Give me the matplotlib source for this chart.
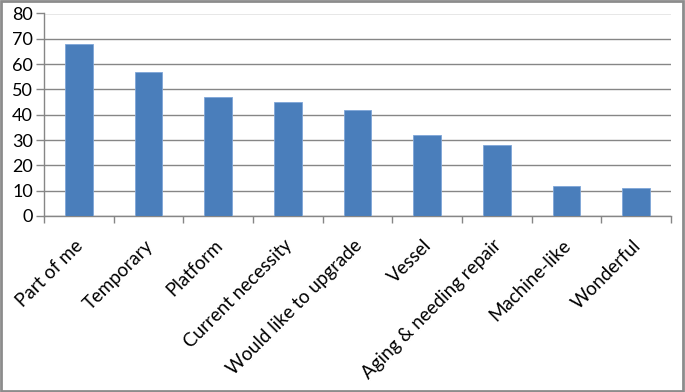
"""Bar chart: perceptions of the body (counts per category)."""

import matplotlib.pyplot as plt
from matplotlib.patches import Rectangle
from matplotlib.transforms import ScaledTranslation

CATEGORIAS = [
    "Part of me", "Temporary", "Platform", "Current necessity",
    "Would like to upgrade", "Vessel", "Aging & needing repair",
    "Machine-like", "Wonderful",
]
VALORES = [68, 57, 47, 45, 42, 32, 28, 12, 11]
TICKS_Y = [0, 10, 20, 30, 40, 50, 60, 70, 80]

GRIS = "#868686"
AZUL = "#4A7EBB"

plt.rcParams["font.family"] = ["Lato", "DejaVu Sans"]

fig = plt.figure(figsize=(6.85, 3.92), dpi=100)
ax = fig.add_axes([44 / 685, 1 - 216 / 392, 627 / 685, 202.5 / 392])

x = list(range(len(CATEGORIAS)))
ax.bar(x, VALORES, width=0.4, color=AZUL, edgecolor="#7EA6D8",
       linewidth=0.6, zorder=3)

ax.set_xlim(-0.5, len(CATEGORIAS) - 0.5)
ax.set_ylim(0, 80)
ax.set_yticks(TICKS_Y)
ax.yaxis.grid(True, color=GRIS, linewidth=1.0, zorder=0)
ax.set_axisbelow(True)

# marcas del eje x entre categorias, como en Excel
ax.set_xticks([i - 0.5 for i in range(len(CATEGORIAS) + 1)])
ax.set_xticklabels([])
ax.tick_params(axis="x", length=5, color=GRIS, width=1, direction="out")
ax.tick_params(axis="y", length=6, color=GRIS, width=1,
               labelsize=13, pad=2)

for lado in ["top", "right"]:
    ax.spines[lado].set_visible(False)
for lado in ["bottom", "left"]:
    ax.spines[lado].set_color(GRIS)
    ax.spines[lado].set_linewidth(1)

desplazar = ScaledTranslation(-3 / 72, -15 / 72, fig.dpi_scale_trans)
for i, nombre in enumerate(CATEGORIAS):
    ax.text(i, 0, nombre, rotation=45, ha="right", va="top",
            rotation_mode="anchor", fontsize=13.5,
            transform=ax.get_xaxis_transform() + desplazar)

# marco gris alrededor de toda la figura
fig.patches.append(Rectangle((0.002, 0.003), 0.995, 0.994,
                             transform=fig.transFigure, fill=False,
                             edgecolor="#8C8C8C", linewidth=2))

fig.savefig("out.png", dpi=100)
